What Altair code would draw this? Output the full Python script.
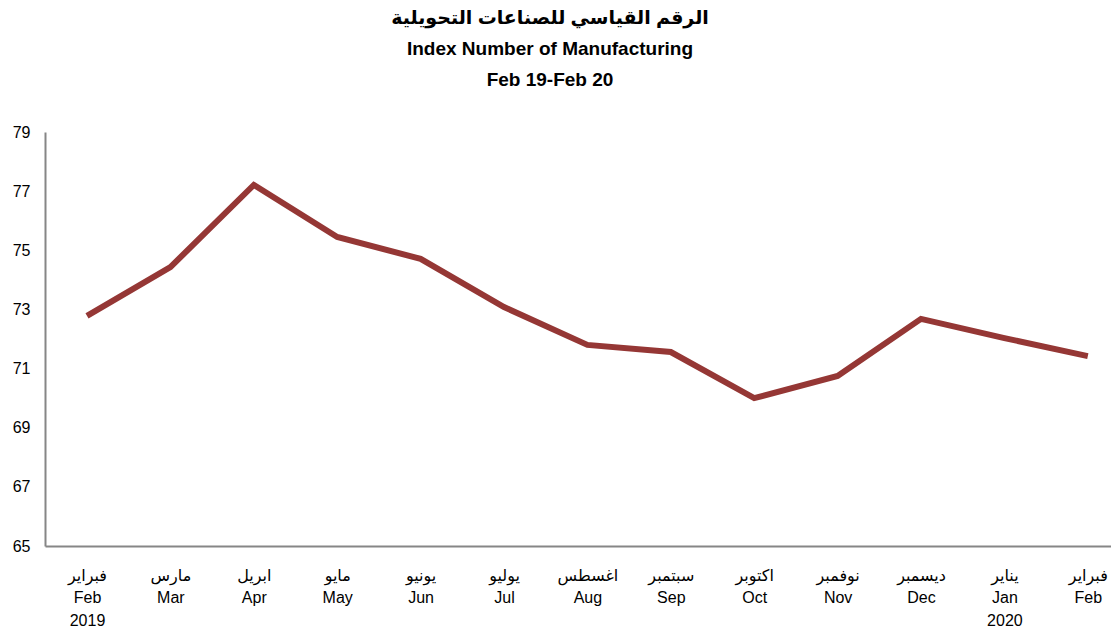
import altair as alt
import pandas as pd
import json

months_ar = ["فبراير", "مارس", "ابريل", "مايو", "يونيو", "يوليو", "اغسطس",
             "سبتمبر", "اكتوبر", "نوفمبر", "ديسمبر", "يناير", "فبراير"]
months_en = ["Feb", "Mar", "Apr", "May", "Jun", "Jul", "Aug",
             "Sep", "Oct", "Nov", "Dec", "Jan", "Feb"]
years = ["2019", "", "", "", "", "", "", "", "", "", "", "2020", ""]
values = [72.78, 74.43, 77.21, 75.45, 74.71, 73.08, 71.80,
          71.56, 70.00, 70.75, 72.68, 72.03, 71.42]
title_lines = ["الرقم القياسي للصناعات التحويلية",
               "Index Number of Manufacturing",
               "Feb 19-Feb 20"]

labels = []
for a, e, y in zip(months_ar, months_en, years):
    labels.append(f"{a}|{e}|{y}" if y else f"{a}|{e}")

df = pd.DataFrame({"idx": list(range(len(values))), "value": values})

label_expr = "split(" + json.dumps(labels, ensure_ascii=False) + "[round(datum.value)], '|')"

FONT = "Liberation Sans, Arial, DejaVu Sans, sans-serif"

chart = alt.Chart(df).mark_line(color="#953735", strokeWidth=6, strokeCap="butt").encode(
    x=alt.X("idx:Q", title=None,
            scale=alt.Scale(domain=[-0.5036, 12.278], nice=False, zero=False),
            axis=alt.Axis(values=list(range(len(values))), labelExpr=label_expr,
                          labelAngle=0, labelAlign="center",
                          labelFontSize=16, labelLineHeight=22.5, labelPadding=21,
                          labelBaseline="top", labelFont=FONT, labelColor="#000000",
                          labelOverlap=False, labelFlush=False,
                          ticks=False, domainColor="#868686", domainWidth=2,
                          grid=False)),
    y=alt.Y("value:Q", title=None,
            scale=alt.Scale(domain=[65, 79], zero=False, nice=False),
            axis=alt.Axis(values=[65, 67, 69, 71, 73, 75, 77, 79],
                          labelFontSize=16, labelFont=FONT, labelColor="#000000",
                          labelPadding=15, ticks=False, domainColor="#868686",
                          domainWidth=2, grid=False)),
).properties(
    width=1066,
    height=414,
    padding={"left": 37, "top": 124, "right": 0, "bottom": 82},
    autosize=alt.AutoSizeParams(type="none"),
    title=alt.TitleParams(text=title_lines, fontSize=19, fontWeight="bold",
                          font=FONT, lineHeight=31, anchor="middle", dx=-28,
                          offset=34, color="#000000"),
).configure_view(stroke=None)

chart.save("out.html", embed_options={"renderer": "svg", "actions": False})
